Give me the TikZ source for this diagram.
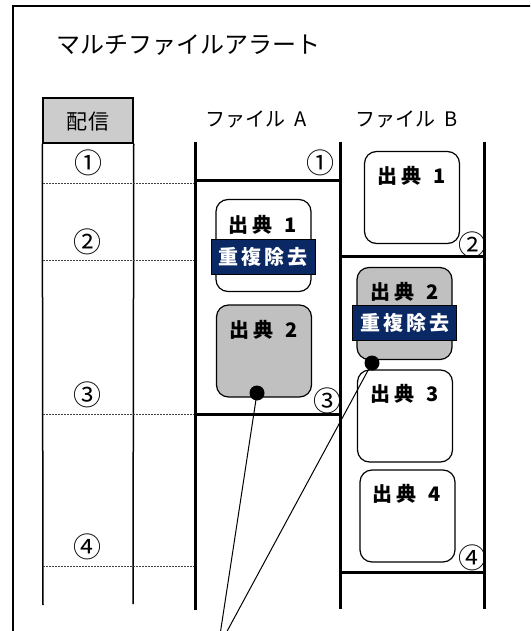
\documentclass[tikz,border=0pt]{standalone}
\usepackage{fontspec}
\setmainfont{Noto Sans CJK JP}
\definecolor{navyband}{HTML}{0A2864}
\definecolor{hdrgray}{HTML}{CCCCCC}
\definecolor{srcgray}{HTML}{C0C0C0}
\begin{document}
\begin{tikzpicture}[x=1pt,y=-1pt,
  frameline/.style={line width=1.4pt},
  colline/.style={line width=1.5pt},
  fileline/.style={line width=3pt},
  rowline/.style={line width=0.8pt, dash pattern=on 2pt off 1pt, black!75},
  srcbox/.style={draw, line width=1.2pt, rounded corners=12pt, minimum width=95pt, minimum height=92pt, inner sep=0pt},
  srclbl/.style={inner sep=0pt, font=\bfseries\fontsize{20}{20}\selectfont},
  banner/.style={draw=black, line width=1pt, fill=navyband, text=white, inner sep=0pt,
     minimum width=104pt, minimum height=35pt, font=\bfseries\fontsize{20}{20}\selectfont},
  circnum/.style={inner sep=0pt, font=\fontsize{28}{28}\selectfont},
  hdrtext/.style={inner sep=0pt, font=\fontsize{20}{20}\selectfont},
  dot/.style={circle, fill=black, minimum size=15pt, inner sep=0pt},
  pointer/.style={line width=1pt}
]
\useasboundingbox (0,0) rectangle (530,631);
\clip (0,0) rectangle (530,631);
% outer frame
\draw[frameline] (13,650) -- (13,6) -- (545,6);
% title
\node[anchor=west, inner sep=0pt, font=\fontsize{24}{24}\selectfont] (title) at (56,45) {マルチファイルアラート};
% delivery column
\node[draw, colline, fill=hdrgray, minimum width=90pt, minimum height=45pt, inner sep=0pt] (hdr) at (88,120.5) {};
\node[hdrtext, font=\fontsize{21}{21}\selectfont] (hdrtxt) at (88,122) {配\hspace{1pt}信};
\draw[colline] (hdr.south west) -- (43,605);
\draw[colline] (hdr.south east) -- (133,604);
% row separators
\draw[rowline] (43,183) -- (195,183);
\draw[rowline] (43,260) -- (195,260);
\draw[rowline] (43,414) -- (195,414);
\draw[rowline] (43,566) -- (195,566);
% delivery numbers
\node[circnum] (d1) at (88,163) {①};
\node[circnum] (d2) at (87,242) {②};
\node[circnum] (d3) at (87,395) {③};
\node[circnum] (d4) at (87,547) {④};
% file headers
\node[hdrtext] (fa) at (256,119) {ファイル\hspace{9pt}A};
\node[hdrtext] (fb) at (407,119) {ファイル\hspace{9pt}B};
% file columns
\draw[fileline] (195,142) -- (195,610);
\draw[fileline] (340,142) -- (340,609);
\draw[fileline] (484,142) -- (484,609);
\draw[fileline] (195,180) -- (340,180);
\draw[fileline] (195,414) -- (340,414);
\draw[fileline] (340,256) -- (484,256);
\draw[fileline] (340,572) -- (484,572);
% file A sources
\node[srcbox, fill=white] (a1) at (263.5,245.5) {};
\node[srclbl] (a1t) at (263,225) {出\hspace{4pt}典\hspace{12pt}1};
\node[banner] (a1b) at (263,256.5) {重\hspace{3pt}複\hspace{3pt}除\hspace{3pt}去};
\node[srcbox, fill=srcgray] (a2) at (264,351) {};
\node[srclbl] (a2t) at (264,330) {出\hspace{4pt}典\hspace{12pt}2};
\node[dot] (a2d) at (257,393) {};
% file B sources
\node[srcbox, fill=white] (b1) at (412,197.5) {};
\node[srclbl] (b1t) at (412,176) {出\hspace{4pt}典\hspace{12pt}1};
\node[srcbox, fill=srcgray] (b2) at (404.5,313.5) {};
\node[srclbl] (b2t) at (405,292) {出\hspace{4pt}典\hspace{12pt}2};
\node[banner] (b2b) at (404.5,323) {重\hspace{3pt}複\hspace{3pt}除\hspace{3pt}去};
\node[srcbox, fill=white] (b3) at (405,416) {};
\node[srclbl] (b3t) at (405,394) {出\hspace{4pt}典\hspace{12pt}3};
\node[srcbox, fill=white] (b4) at (407.5,516) {};
\node[srclbl] (b4t) at (407,494) {出\hspace{4pt}典\hspace{12pt}4};
\node[dot] (b2d) at (372,363) {};
% file numbers
\node[circnum] (n1) at (320,163) {①};
\node[circnum] (n2) at (472,245) {②};
\node[circnum] (n3) at (327,401) {③};
\node[circnum] (n4) at (472,558) {④};
% pointers
\coordinate (meet) at (218,648);
\draw[pointer] (a2d.center) -- (meet);
\draw[pointer] (b2d.center) -- (meet);
\end{tikzpicture}
\end{document}
